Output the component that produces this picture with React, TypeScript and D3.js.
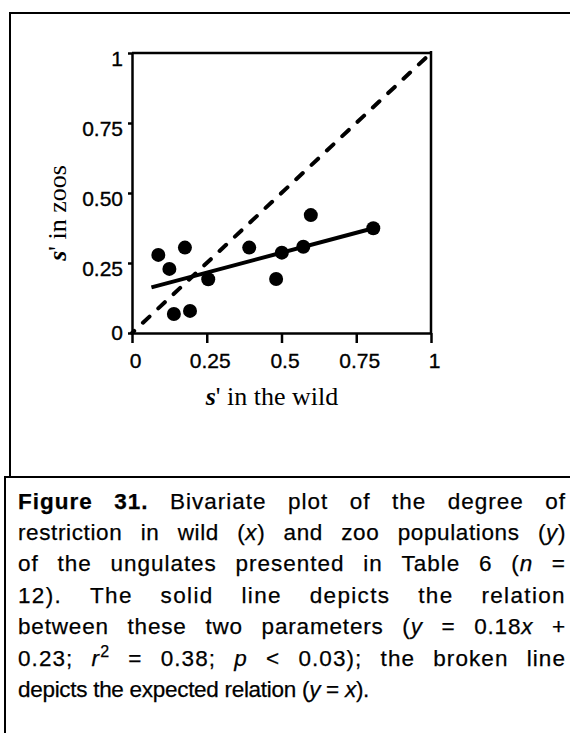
import React, { useEffect, useRef } from "react";
import * as d3 from "d3";

// ---- data ----
const wildX = [0.088, 0.125, 0.177, 0.14, 0.194, 0.255, 0.392, 0.482, 0.501, 0.573, 0.598, 0.807];
const zooY = [0.279, 0.229, 0.305, 0.068, 0.079, 0.192, 0.305, 0.193, 0.287, 0.308, 0.421, 0.374];
const regX = [0.065, 0.807];
const regY = [0.163, 0.374];
const expX = [0, 1];
const expY = [0, 1];
const xTicks = [0, 0.25, 0.5, 0.75, 1];
const xTickLabels = ["0", "0.25", "0.5", "0.75", "1"];
const yTicks = [0, 0.25, 0.5, 0.75, 1];
const yTickLabels = ["0", "0.25", "0.50", "0.75", "1"];
const captionLines = [
  "**Figure** **31.** Bivariate plot of the degree of",
  "restriction in wild (_x_) and zoo populations (_y_)",
  "of the ungulates presented in Table 6 (_n_ =",
  "12). The solid line depicts the relation",
  "between these two parameters (_y_ = 0.18_x_ +",
  "0.23; _r_^2^ = 0.38; _p_ < 0.03); the broken line",
  "depicts the expected relation (_y_ = _x_).",
];

const W = 570;
const H = 733;
const SANS = "'Liberation Sans', Arial, sans-serif";
const SERIF = "'Liberation Serif', 'Times New Roman', serif";

export default function App() {
  const ref = useRef<SVGSVGElement>(null);

  useEffect(() => {
    const svg = d3.select(ref.current);
    svg.selectAll("*").remove();

    // frames
    const frame = svg.append("g").attr("stroke", "#000").attr("fill", "none");
    frame.append("line").attr("x1", 9).attr("x2", W).attr("y1", 13).attr("y2", 13).attr("stroke-width", 2);
    frame.append("line").attr("x1", 10).attr("x2", 10).attr("y1", 12).attr("y2", 477).attr("stroke-width", 2);
    frame.append("line").attr("x1", 4).attr("x2", W).attr("y1", 477).attr("y2", 477).attr("stroke-width", 2);
    frame.append("line").attr("x1", 5).attr("x2", 5).attr("y1", 476).attr("y2", H).attr("stroke-width", 2);

    const x = d3.scaleLinear().domain([0, 1]).range([132, 431]);
    const y = d3.scaleLinear().domain([0, 1]).range([333, 53]);

    // plot box top/right
    svg.append("line").attr("x1", x(0)).attr("x2", x(1) + 1).attr("y1", y(1)).attr("y2", y(1))
      .attr("stroke", "#000").attr("stroke-width", 2.5);
    svg.append("line").attr("x1", x(1)).attr("x2", x(1)).attr("y1", y(1) - 2).attr("y2", y(0))
      .attr("stroke", "#000").attr("stroke-width", 2.5);

    // x axis
    const gx = svg.append("g").attr("transform", `translate(0,${y(0)})`)
      .call(d3.axisBottom(x).tickValues(xTicks).tickFormat((d, i) => xTickLabels[i]).tickSize(10).tickSizeOuter(0));
    gx.selectAll("path,line").attr("stroke", "#000").attr("stroke-width", 2.5);
    gx.selectAll("text").attr("y", 35).attr("dy", 0).attr("dx", 3)
      .attr("font-family", SANS).attr("font-size", 21).attr("fill", "#000")
      .attr("stroke", "#000").attr("stroke-width", 0.35);

    // y axis
    const gy = svg.append("g").attr("transform", `translate(${x(0)},0)`)
      .call(d3.axisLeft(y).tickValues(yTicks).tickFormat((d, i) => yTickLabels[i]).tickSize(4).tickSizeOuter(0));
    gy.selectAll("path,line").attr("stroke", "#000").attr("stroke-width", 2.5);
    gy.selectAll("text").attr("x", -9).attr("dy", (d: any) => (d === 0 ? 6 : 12))
      .attr("font-family", SANS).attr("font-size", 21).attr("fill", "#000")
      .attr("stroke", "#000").attr("stroke-width", 0.35);

    // expected relation (dashed)
    const xyLine = d3.line<[number, number]>().x(d => x(d[0])).y(d => y(d[1]));
    svg.append("path")
      .attr("d", xyLine(expX.map((v, i) => [v, expY[i]] as [number, number])))
      .attr("fill", "none").attr("stroke", "#000").attr("stroke-width", 4)
      .attr("stroke-linecap", "round").attr("stroke-dasharray", "9 12").attr("stroke-dashoffset", 6);

    // regression line
    svg.append("path")
      .attr("d", xyLine(regX.map((v, i) => [v, regY[i]] as [number, number])))
      .attr("fill", "none").attr("stroke", "#000").attr("stroke-width", 4);

    // points
    svg.append("g").selectAll("circle").data(wildX).join("circle")
      .attr("cx", d => x(d)).attr("cy", (d, i) => y(zooY[i])).attr("r", 7).attr("fill", "#000");

    // axis titles
    const xt = svg.append("text").attr("x", 272).attr("y", 405).attr("text-anchor", "middle")
      .attr("font-family", SERIF).attr("font-size", 26).attr("fill", "#000");
    xt.append("tspan").attr("font-style", "italic").attr("font-weight", "bold").text("s");
    xt.append("tspan").text("' in the wild");

    const yt = svg.append("text").attr("transform", "translate(66,213) rotate(-90)").attr("text-anchor", "middle")
      .attr("font-family", SERIF).attr("font-size", 26).attr("fill", "#000");
    yt.append("tspan").attr("font-style", "italic").attr("font-weight", "bold").text("s");
    yt.append("tspan").text("' in zoos");

    // caption (justified, extra space shared between letters and words)
    const capLeft = 18;
    const capRight = 566;
    const base0 = 508.5;
    const step = 31.4;
    const baseLS = -0.3;
    const spaceW = 6;
    const cap = svg.append("g").attr("font-family", SANS).attr("font-size", 22.5)
      .attr("fill", "#000").attr("stroke", "#000").attr("stroke-width", 0.25);
    captionLines.forEach((ln, li) => {
      const words = ln.split(" ");
      const els: SVGTextElement[] = [];
      const counts: number[] = [];
      words.forEach(w => {
        const t = cap.append("text").attr("y", base0 + li * step).attr("letter-spacing", baseLS);
        const parts = w.split(/(\*\*[^*]+\*\*|_[^_]+_|\^[^^]+\^)/).filter(p => p.length);
        let n = 0;
        parts.forEach(p => {
          let s = p;
          let sp;
          if (p.startsWith("**")) { s = p.slice(2, -2); sp = t.append("tspan").attr("font-weight", "bold"); }
          else if (p.startsWith("_")) { s = p.slice(1, -1); sp = t.append("tspan").attr("font-style", "italic"); }
          else if (p.startsWith("^")) { s = p.slice(1, -1); sp = t.append("tspan").attr("font-size", 16).attr("dy", -9); }
          else sp = t.append("tspan");
          sp.text(s);
          n += s.length;
        });
        counts.push(n);
        els.push(t.node() as SVGTextElement);
      });
      const widths = els.map(e => e.getComputedTextLength());
      const isLast = li === captionLines.length - 1;
      let extraLS = 0;
      let gap = spaceW;
      if (!isLast && els.length > 1) {
        const natural = d3.sum(widths) + spaceW * (els.length - 1);
        const extra = capRight - capLeft - natural;
        const nChars = d3.sum(counts);
        extraLS = Math.max(0, (extra * 0.3) / nChars);
        const widths2 = widths.map((w, i) => w + counts[i] * extraLS);
        gap = (capRight - capLeft - d3.sum(widths2)) / (els.length - 1);
        widths.forEach((w, i) => (widths[i] = widths2[i]));
      }
      let cx = capLeft;
      els.forEach((e, i) => {
        d3.select(e).attr("x", cx).attr("letter-spacing", baseLS + extraLS);
        cx += widths[i] + gap;
      });
    });
  }, []);

  return (
    <svg ref={ref} width={W} height={H} style={{ display: "block", position: "absolute", left: 0, top: 0, background: "#fff" }} />
  );
}
